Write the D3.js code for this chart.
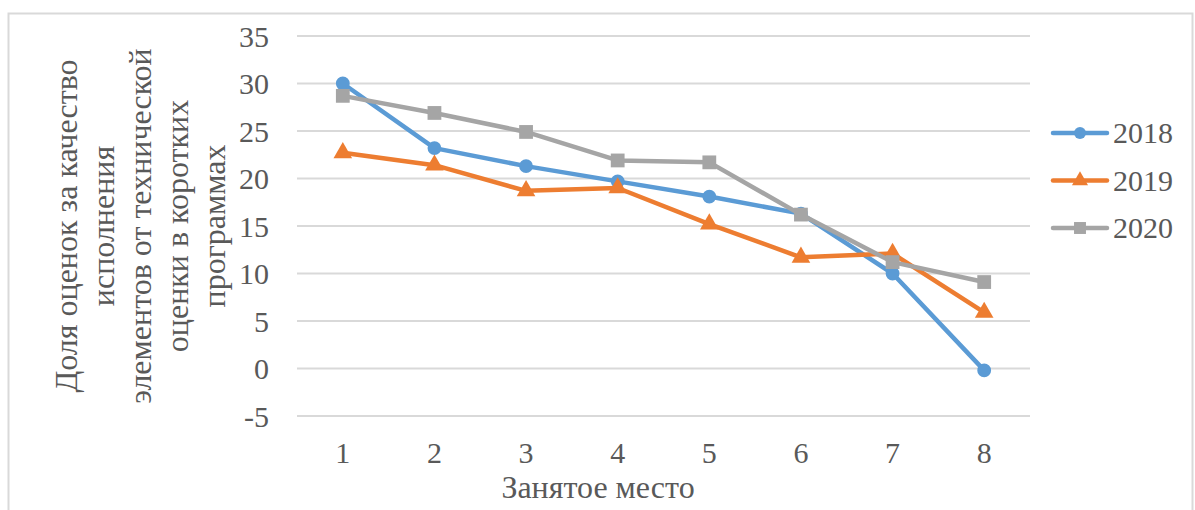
<!DOCTYPE html>
<html>
<head>
<meta charset="utf-8">
<script src="https://cdn.jsdelivr.net/npm/d3@7"></script>
<style>
  html, body { margin: 0; padding: 0; background: #fff; }
  svg { display: block; }
</style>
</head>
<body>
<svg id="chart" width="1195" height="510"></svg>
<script>
// Places 1..8 and the share of element-execution score in the technical score (short programme)
const places = [1, 2, 3, 4, 5, 6, 7, 8];
const values2018 = [30.0, 23.2, 21.3, 19.7, 18.1, 16.3, 10.0, -0.2];
const values2019 = [22.7, 21.4, 18.7, 19.0, 15.2, 11.7, 12.1, 5.9];
const values2020 = [28.7, 26.9, 24.9, 21.9, 21.7, 16.2, 11.2, 9.1];
const yTicks = [-5, 0, 5, 10, 15, 20, 25, 30, 35];
const seriesNames = ["2018", "2019", "2020"];
const yTitleLines = [
  "Доля оценок за качество",
  "исполнения",
  "элементов от технической",
  "оценки в коротких",
  "программах"
];
const xTitle = "Занятое место";

const FONT = '"Liberation Serif"';
const TEXT_COLOR = "#595959";

const series = [
  { name: seriesNames[0], values: values2018, color: "#5b9bd5", symbol: d3.symbolCircle, size: 150 },
  { name: seriesNames[1], values: values2019, color: "#ed7d31", symbol: d3.symbolTriangle, size: 150 },
  { name: seriesNames[2], values: values2020, color: "#a5a5a5", symbol: d3.symbolSquare, size: 190 }
];

const svg = d3.select("#chart");

// outer chart frame
svg.append("rect")
  .attr("x", 8.5).attr("y", 13.5)
  .attr("width", 1184).attr("height", 520)
  .attr("fill", "none").attr("stroke", "#d9d9d9").attr("stroke-width", 2);

const x = d3.scaleBand().domain(places).range([297, 1030]).padding(0);
const y = d3.scaleLinear().domain([-5, 35]).range([416, 36]);
const cx = d => x(d) + x.bandwidth() / 2;

// horizontal gridlines
svg.append("g")
  .selectAll("line")
  .data(yTicks)
  .join("line")
  .attr("x1", 297).attr("x2", 1030)
  .attr("y1", d => y(d)).attr("y2", d => y(d))
  .attr("stroke", "#d9d9d9").attr("stroke-width", 2);

// y axis labels (plain hyphen for negatives)
const yAxis = d3.axisLeft(y).tickValues(yTicks).tickFormat(d => String(d)).tickSize(0).tickPadding(0);
const yg = svg.append("g").attr("transform", "translate(269,0)").call(yAxis);
yg.select(".domain").remove();
yg.selectAll("text")
  .attr("dy", "0.34em")
  .style("font-family", FONT)
  .style("font-size", "30px")
  .style("fill", TEXT_COLOR);

// x axis labels
const xAxis = d3.axisBottom(x).tickSize(0).tickPadding(0);
const xg = svg.append("g").attr("transform", "translate(0,453)").call(xAxis);
xg.select(".domain").remove();
xg.selectAll("text")
  .attr("dy", "0.34em")
  .style("font-family", FONT)
  .style("font-size", "30px")
  .style("fill", TEXT_COLOR);

// axis titles
svg.append("text")
  .attr("x", 598).attr("y", 498)
  .attr("text-anchor", "middle")
  .style("font-family", FONT)
  .style("font-size", "32px")
  .style("fill", TEXT_COLOR)
  .text(xTitle);

const yTitle = svg.append("text")
  .attr("transform", "translate(66,226) rotate(-90)")
  .attr("text-anchor", "middle")
  .style("font-family", FONT)
  .style("font-size", "32px")
  .style("fill", TEXT_COLOR);
yTitle.selectAll("tspan")
  .data(yTitleLines)
  .join("tspan")
  .attr("x", 0)
  .attr("dy", (d, i) => i === 0 ? "0.35em" : "37px")
  .text(d => d);

// series lines and markers
const line = d3.line().x((d, i) => cx(places[i])).y(d => y(d));
series.forEach(s => {
  svg.append("path")
    .datum(s.values)
    .attr("d", line)
    .attr("fill", "none")
    .attr("stroke", s.color)
    .attr("stroke-width", 4.5)
    .attr("stroke-linejoin", "round")
    .attr("stroke-linecap", "round");
  svg.append("g")
    .selectAll("path")
    .data(s.values)
    .join("path")
    .attr("d", d3.symbol().type(s.symbol).size(s.size))
    .attr("transform", (d, i) => `translate(${cx(places[i])},${y(d)})`)
    .attr("fill", s.color);
});

// legend
const legend = svg.append("g");
series.forEach((s, i) => {
  const ly = 133 + i * 47.5;
  const g = legend.append("g").attr("transform", `translate(0,${ly})`);
  g.append("line")
    .attr("x1", 1053).attr("x2", 1107)
    .attr("stroke", s.color).attr("stroke-width", 4.5)
    .attr("stroke-linecap", "round");
  g.append("path")
    .attr("d", d3.symbol().type(s.symbol).size(s.size * 0.75))
    .attr("transform", "translate(1080,0)")
    .attr("fill", s.color);
  g.append("text")
    .attr("x", 1113)
    .attr("dy", "0.34em")
    .style("font-family", FONT)
    .style("font-size", "30px")
    .style("fill", TEXT_COLOR)
    .text(s.name);
});
</script>
</body>
</html>
